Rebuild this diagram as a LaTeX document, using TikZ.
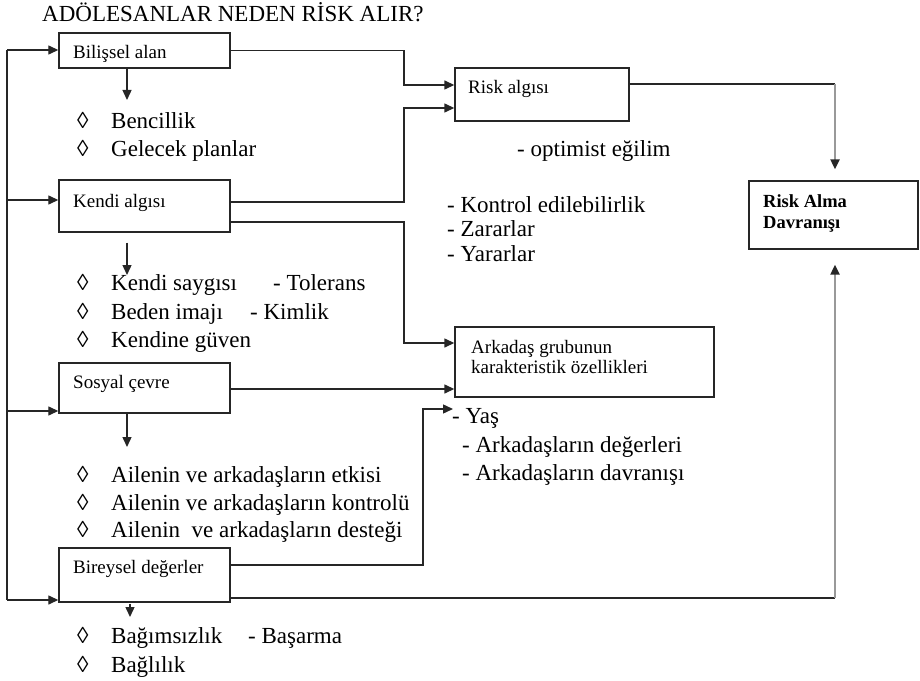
\documentclass[tikz,border=0pt]{standalone}
\usepackage{fontspec}
\setmainfont{Liberation Serif}
\usetikzlibrary{arrows.meta}
\begin{document}
\begin{tikzpicture}[x=1bp,y=-1bp,
  box/.style={draw=black!85, line width=1.4bp, rectangle, inner sep=0pt, minimum width=171bp},
  boxtxt/.style={anchor=base west, inner sep=0pt, font=\fontsize{19bp}{21bp}\selectfont},
  listtxt/.style={anchor=base west, inner sep=0pt, font=\fontsize{23bp}{28bp}\selectfont},
  conn/.style={draw=black!85, line width=1.4bp},
  arr/.style={conn, -{Triangle[length=10bp,width=9bp]}},
  grayarr/.style={draw=black!40, line width=2.2bp, -{Triangle[length=10bp,width=9bp,color=black!85]}}
]
\useasboundingbox (0,0) rectangle (920,681);

% title
\node[listtxt] (title) at (42,22) {ADÖLESANLAR NEDEN RİSK ALIR?};

% boxes
\node[box, minimum height=35bp] (bil) at (144.5,50.5) {};
\node[box, minimum height=52bp] (ken) at (144.5,206) {};
\node[box, minimum height=50bp] (sos) at (144.5,388) {};
\node[box, minimum height=54bp] (bir) at (144.5,575) {};
\node[box, minimum width=174bp, minimum height=53bp] (ris) at (542,94.5) {};
\node[box, minimum width=259bp, minimum height=70bp] (ark) at (584.5,362) {};
\node[box, minimum width=169bp, minimum height=68bp] (ral) at (833.5,215) {};

% box texts
\node[boxtxt] (bilT) at (73,59) {Bilişsel alan};
\node[boxtxt] (kenT) at (73,207) {Kendi algısı};
\node[boxtxt] (sosT) at (73,388) {Sosyal çevre};
\node[boxtxt] (birT) at (73,573) {Bireysel değerler};
\node[boxtxt] (risT) at (468,94) {Risk algısı};
\node[boxtxt] (arkT1) at (471,353) {Arkadaş grubunun};
\node[boxtxt] (arkT2) at (471,373) {karakteristik özellikleri};
\node[boxtxt, font=\fontsize{18.5bp}{21bp}\selectfont\bfseries] (ralT1) at (763,207) {Risk Alma};
\node[boxtxt, font=\fontsize{18.5bp}{21bp}\selectfont\bfseries] (ralT2) at (763,228) {Davranışı};

% lists
\node[listtxt] (l1) at (77,129) {\makebox[34bp][l]{◊}Bencillik};
\node[listtxt] (l2) at (77,157) {\makebox[34bp][l]{◊}Gelecek planlar};
\node[listtxt] (l3) at (77,290) {\makebox[34bp][l]{◊}\makebox[162bp][l]{Kendi saygısı}- Tolerans};
\node[listtxt] (l4) at (77,319) {\makebox[34bp][l]{◊}\makebox[139bp][l]{Beden imajı}- Kimlik};
\node[listtxt] (l5) at (77,347) {\makebox[34bp][l]{◊}Kendine güven};
\node[listtxt] (l6) at (77,482) {\makebox[34bp][l]{◊}Ailenin ve arkadaşların etkisi};
\node[listtxt] (l7) at (77,510) {\makebox[34bp][l]{◊}Ailenin ve arkadaşların kontrolü};
\node[listtxt] (l8) at (77,537) {\makebox[34bp][l]{◊}Ailenin\ \ ve arkadaşların desteği};
\node[listtxt] (l9) at (77,643) {\makebox[34bp][l]{◊}\makebox[137bp][l]{Bağımsızlık}- Başarma};
\node[listtxt] (l10) at (77,672) {\makebox[34bp][l]{◊}Bağlılık};

\node[listtxt] (opt) at (517,157) {- optimist eğilim};
\node[listtxt] (kon) at (447,212) {- Kontrol edilebilirlik};
\node[listtxt] (zar) at (447,236) {- Zararlar};
\node[listtxt] (yar) at (447,261) {- Yararlar};
\node[listtxt] (yas) at (452,423) {- Yaş};
\node[listtxt] (ard) at (462,452) {- Arkadaşların değerleri};
\node[listtxt] (arv) at (462,480) {- Arkadaşların davranışı};

% left bus
\coordinate (bus1) at (7,50);
\coordinate (bus2) at (7,200);
\coordinate (bus3) at (7,411);
\coordinate (bus4) at (7,600);
\draw[conn] (bus1) -- (bus4);
\draw[arr] (bus1) -- (bus1 -| bil.west);
\draw[arr] (bus2) -- (bus2 -| ken.west);
\draw[arr] (bus3) -- (bus3 -| sos.west);
\draw[arr] (bus4) -- (bus4 -| bir.west);

% down arrows
\coordinate (d1) at (127,100);
\coordinate (d2) at (127,275);
\coordinate (d3) at (127,447);
\coordinate (d4) at (130,617);
\draw[arr] (bil.south -| d1) -- (d1);
\draw[arr, shorten <=10bp] (ken.south -| d2) -- (d2);
\draw[arr] (sos.south -| d3) -- (d3);
\draw[arr, shorten <=1bp] (bir.south -| d4) -- (d4);

% Bilissel -> Risk algisi
\coordinate (j1) at (404,85);
\draw[arr] (bil.east) -| (j1) -- (j1 -| ris.west);
% Kendi -> Risk algisi
\coordinate (j2a) at (404,202);
\coordinate (j2b) at (404,108);
\draw[arr] (j2a -| ken.east) -- (j2a) -- (j2b) -- (j2b -| ris.west);
% Kendi -> Arkadas
\coordinate (j3a) at (404,222);
\coordinate (j3b) at (404,343);
\draw[arr] (j3a -| ken.east) -- (j3a) -- (j3b) -- (j3b -| ark.west);
% Sosyal -> Arkadas
\coordinate (j4) at (300,389);
\draw[arr] (j4 -| sos.east) -- (j4 -| ark.west);
% Bireysel -> Yas
\coordinate (j5a) at (423,565);
\coordinate (yin) at (453,409);
\draw[arr] (j5a -| bir.east) -- (j5a) |- (yin);
% Risk algisi -> Risk Alma
\coordinate (j6a) at (835,84);
\draw[conn] (j6a -| ris.east) -- (j6a);
\draw[grayarr, shorten >=11bp] (j6a) -- (j6a |- ral.north);
% Bireysel -> Risk Alma
\coordinate (j7a) at (835,598);
\draw[conn] (j7a -| bir.east) -- (j7a);
\draw[grayarr, shorten >=15bp] (j7a) -- (j7a |- ral.south);
\end{tikzpicture}
\end{document}
